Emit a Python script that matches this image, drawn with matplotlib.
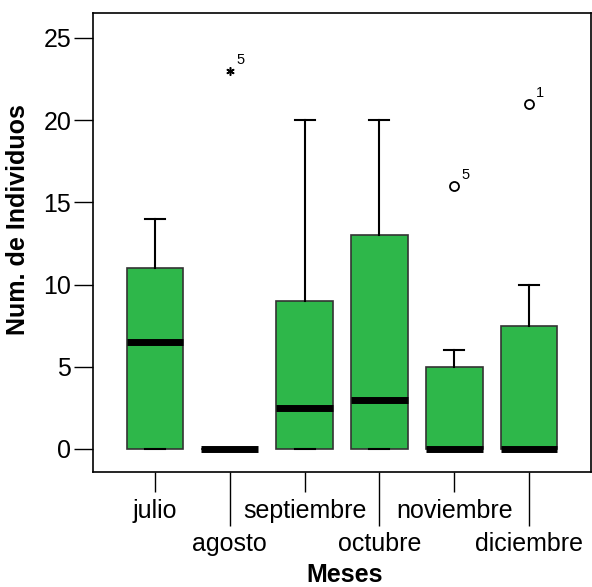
import matplotlib
matplotlib.use('Agg')
import matplotlib.pyplot as plt
from matplotlib import rcParams

rcParams['font.family'] = ['Liberation Sans', 'DejaVu Sans']

# datos (cuartiles, mediana, bigotes)
meses = ['julio', 'agosto', 'septiembre', 'octubre', 'noviembre', 'diciembre']
q1 = [0, 0, 0, 0, 0, 0]
mediana = [6.5, 0, 2.5, 3, 0, 0]
q3 = [11, 0, 9, 13, 5, 7.5]
bigote_inf = [0, 0, 0, 0, 0, 0]
bigote_sup = [14, 0, 20, 20, 6, 10]

# valores atipicos: (mes, valor, etiqueta de caso, extremo?)
atipico_mes = [2, 5, 6]
atipico_valor = [23, 16, 21]
atipico_caso = ['5', '5', '1']
atipico_extremo = [True, False, False]

verde = '#2EB74A'
fs = 18

fig = plt.figure(figsize=(5.92, 5.87), dpi=100)
ax = fig.add_axes([93/592, 1 - 472/587, 498/592, 459/587])

stats = []
for i in range(len(meses)):
    stats.append({'label': meses[i], 'q1': q1[i], 'med': mediana[i], 'q3': q3[i],
                  'whislo': bigote_inf[i], 'whishi': bigote_sup[i], 'fliers': []})

pos = list(range(1, len(meses) + 1))
ax.bxp(stats, positions=pos, widths=0.76, patch_artist=True, showfliers=False,
       boxprops=dict(facecolor=verde, edgecolor='#333333', linewidth=1.2),
       medianprops=dict(color='black', linewidth=5, solid_capstyle='butt'),
       whiskerprops=dict(color='black', linewidth=1.5),
       capprops=dict(color='black', linewidth=1.5),
       capwidths=0.27)

# atipicos
for m, v, c, ext in zip(atipico_mes, atipico_valor, atipico_caso, atipico_extremo):
    if ext:
        ax.plot(m, v, marker=(6, 2, 0), color='black', markersize=6, mew=1.1)
    else:
        ax.plot(m, v, marker='o', mfc='white', mec='black', markersize=6.5, mew=1.3)
    ax.annotate(c, (m, v), xytext=(5, 5), textcoords='offset points', fontsize=10.5)

ax.set_xlim(0.17, 6.83)
ax.set_ylim(-1.40, 26.52)
ax.set_yticks([0, 5, 10, 15, 20, 25])
ax.tick_params(axis='y', length=13.7, width=1, labelsize=fs, pad=2)

# etiquetas del eje x alternadas
ax.set_xticks(pos[0::2])
ax.set_xticklabels(meses[0::2])
ax.set_xticks(pos[1::2], minor=True)
ax.set_xticklabels(meses[1::2], minor=True)
ax.tick_params(axis='x', which='major', length=14.4, width=1, labelsize=fs, pad=5)
ax.tick_params(axis='x', which='minor', length=39, width=1, labelsize=fs, pad=4)

for s in ax.spines.values():
    s.set_linewidth(1.2)

ax.set_ylabel('Num. de Individuos', fontsize=fs, fontweight='bold')
ax.yaxis.set_label_coords(-0.127, 0.549)
ax.set_xlabel('Meses', fontsize=fs, fontweight='bold', va='center')
ax.xaxis.set_label_coords(0.505, -0.225)

fig.savefig('out.png', dpi=100)
